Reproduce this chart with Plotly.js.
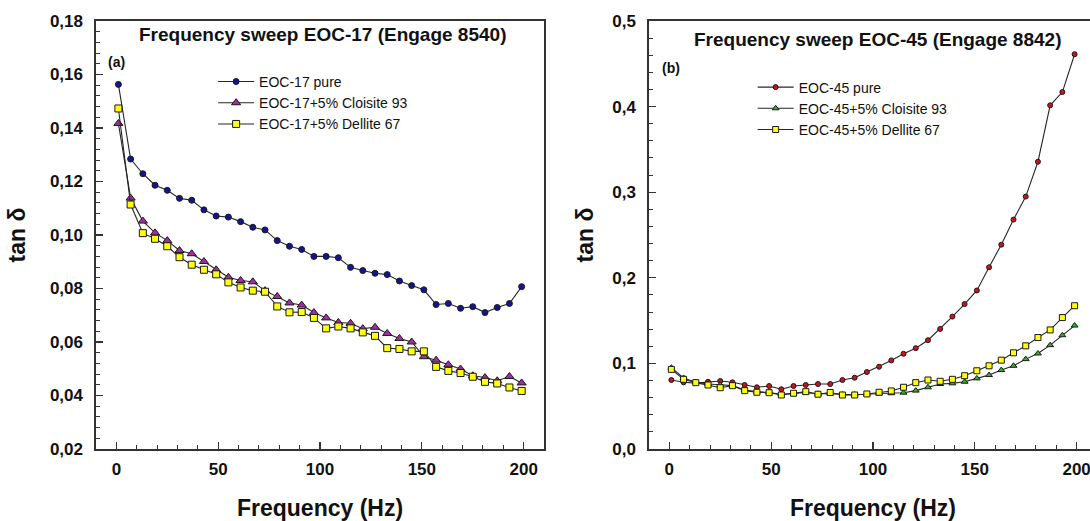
<!DOCTYPE html>
<html>
<head>
<meta charset="utf-8">
<script src="https://cdn.plot.ly/plotly-3.0.1.min.js"></script>
<style>
html,body{margin:0;padding:0;overflow:hidden;background:#fff;}
#chart{width:1100px;height:521px;}
</style>
</head>
<body>
<div id="chart"></div>
<script>
// Frequency (Hz)
const freq = [1,7,13,19,25,31,37,43,49,55,61,67,73,79,85,91,97,103,109,115,121,127,133,139,145,151,157,163,169,175,181,187,193,199];

// Panel (a): EOC-17 (Engage 8540)
const eoc17Pure = [0.1563,0.1284,0.1229,0.1186,0.1167,0.1137,0.1130,0.1094,0.1071,0.1067,0.1050,0.1029,0.1019,0.0979,0.0958,0.0946,0.0920,0.0920,0.0915,0.0879,0.0867,0.0857,0.0852,0.0828,0.0811,0.0795,0.0740,0.0744,0.0726,0.0732,0.0710,0.0729,0.0744,0.0807];
const eoc17Cloisite = [0.1417,0.1138,0.1052,0.1008,0.0979,0.0942,0.0930,0.0901,0.0870,0.0842,0.0830,0.0825,0.0792,0.0770,0.0746,0.0738,0.0710,0.0690,0.0673,0.0670,0.0650,0.0655,0.0632,0.0613,0.0600,0.0545,0.0532,0.0515,0.0499,0.0474,0.0467,0.0455,0.0471,0.0447];
const eoc17Dellite = [0.1473,0.1114,0.1007,0.0986,0.0958,0.0917,0.0889,0.0870,0.0853,0.0823,0.0804,0.0792,0.0788,0.0733,0.0711,0.0712,0.0690,0.0651,0.0658,0.0651,0.0636,0.0623,0.0577,0.0574,0.0565,0.0565,0.0507,0.0492,0.0484,0.0470,0.0451,0.0445,0.0430,0.0417];

// Panel (b): EOC-45 (Engage 8842)
const eoc45Pure = [0.0806,0.0779,0.0770,0.0785,0.0794,0.0779,0.0748,0.0721,0.0736,0.0698,0.0736,0.0748,0.0759,0.0759,0.0806,0.0833,0.0899,0.0961,0.1035,0.1112,0.1178,0.1271,0.1403,0.1547,0.1693,0.1852,0.2123,0.2387,0.2680,0.2949,0.3356,0.4015,0.4170,0.4612];
const eoc45Cloisite = [0.0950,0.0830,0.0780,0.0760,0.0750,0.0740,0.0690,0.0670,0.0660,0.0640,0.0650,0.0660,0.0645,0.0650,0.0635,0.0635,0.0640,0.0648,0.0651,0.0658,0.0682,0.0721,0.0759,0.0767,0.0786,0.0825,0.0864,0.0922,0.0972,0.1050,0.1116,0.1213,0.1329,0.1442];
const eoc45Dellite = [0.0930,0.0814,0.0775,0.0748,0.0716,0.0740,0.0682,0.0663,0.0658,0.0631,0.0651,0.0670,0.0640,0.0660,0.0631,0.0631,0.0643,0.0663,0.0678,0.0721,0.0775,0.0806,0.0791,0.0814,0.0856,0.0914,0.0972,0.1038,0.1124,0.1205,0.1302,0.1391,0.1535,0.1674];

const names17 = ['EOC-17 pure','EOC-17+5% Cloisite 93','EOC-17+5% Dellite 67'];
const names45 = ['EOC-45 pure','EOC-45+5% Cloisite 93','EOC-45+5% Dellite 67'];
const titleA = 'Frequency sweep EOC-17 (Engage 8540)';
const titleB = 'Frequency sweep EOC-45 (Engage 8842)';

const FONT = 'Liberation Sans, Arial, Helvetica, sans-serif';
const LINE = {color:'#262626', width:1.1};
const OUT = {color:'#1a1a1a', width:1};

function tr(y, name, xa, ya, leg, symbol, color, size){
  return {x:freq, y:y, name:name, xaxis:xa, yaxis:ya, legend:leg,
    type:'scatter', mode:'lines+markers', line:LINE,
    marker:{symbol:symbol, color:color, size:size, line:OUT}};
}

const data = [
  tr(eoc17Pure, names17[0], 'x','y','legend','circle','#14148f',6),
  tr(eoc17Cloisite, names17[1], 'x','y','legend','triangle-up','#a62aa6',8),
  tr(eoc17Dellite, names17[2], 'x','y','legend','square','#ffff10',7),
  tr(eoc45Pure, names45[0], 'x2','y2','legend2','circle','#c8141e',5),
  tr(eoc45Cloisite, names45[1], 'x2','y2','legend2','triangle-up','#2fb02f',6),
  tr(eoc45Dellite, names45[2], 'x2','y2','legend2','square','#ffff10',6)
];

const axColor = '#333333';
function xax(domain, anchor){
  return {domain:domain, anchor:anchor, range:[-10,210], dtick:50, tick0:0,
    showline:true, mirror:true, linecolor:axColor, linewidth:1.6,
    ticks:'inside', ticklen:7, tickwidth:1.2, tickcolor:axColor,
    minor:{ticks:'inside', ticklen:4, dtick:10, tickcolor:axColor, tickwidth:1},
    showgrid:false, zeroline:false, ticklabelstandoff:4,
    tickfont:{family:FONT, size:17, weight:'bold', color:'#111'},
    title:{text:'Frequency (Hz)', standoff:22, font:{family:FONT, size:23, weight:'bold', color:'#111'}}};
}
function yax(range, dtick, minor, fmt, anchor, standoff){
  return {range:range, dtick:dtick, tick0:0, anchor:anchor, tickformat:fmt,
    showline:true, mirror:true, linecolor:axColor, linewidth:1.6,
    ticks:'inside', ticklen:7, tickwidth:1.2, tickcolor:axColor,
    minor:{ticks:'inside', ticklen:4, dtick:minor, tickcolor:axColor, tickwidth:1},
    showgrid:false, zeroline:false, ticklabelstandoff:8,
    tickfont:{family:FONT, size:17, weight:'bold', color:'#111'},
    title:{text:'tan δ', standoff:standoff, font:{family:FONT, size:23, weight:'bold', color:'#111'}}};
}

const legStyle = {font:{family:FONT, size:14, color:'#111'}, bgcolor:'rgba(0,0,0,0)',
  borderwidth:0, itemwidth:36, xanchor:'left', yanchor:'top', tracegroupgap:0};

const layout = {
  width:1100, height:521,
  margin:{l:96, r:3, t:21, b:72},
  paper_bgcolor:'#fff', plot_bgcolor:'#fff',
  separators:',.',
  showlegend:true,
  xaxis: xax([0,0.4476],'y'),
  yaxis: yax([0.02,0.18],0.02,0.004,'.2f','x',18),
  xaxis2: xax([0.5524,1],'y2'),
  yaxis2: yax([0,0.5],0.1,0.02,'.1f','x2',12),
  legend: Object.assign({}, legStyle, {x:0.117, y:0.895}),
  legend2: Object.assign({}, legStyle, {x:0.656, y:0.882}),
  annotations:[
    {text:titleA, xref:'paper', yref:'paper', x:0.2258, y:0.9680, showarrow:false,
     xanchor:'center', yanchor:'middle', font:{family:FONT, size:19, weight:'bold', color:'#111'}},
    {text:titleB, xref:'paper', yref:'paper', x:0.7807, y:0.9560, showarrow:false,
     xanchor:'center', yanchor:'middle', font:{family:FONT, size:19, weight:'bold', color:'#111'}},
    {text:'(a)', xref:'paper', yref:'paper', x:0.0200, y:0.905, showarrow:false,
     xanchor:'center', yanchor:'middle', font:{family:FONT, size:14, weight:'bold', color:'#111'}},
    {text:'(b)', xref:'paper', yref:'paper', x:0.5744, y:0.8895, showarrow:false,
     xanchor:'center', yanchor:'middle', font:{family:FONT, size:14, weight:'bold', color:'#111'}}
  ]
};

Plotly.newPlot('chart', data, layout, {displayModeBar:false, staticPlot:true});
</script>
</body>
</html>
